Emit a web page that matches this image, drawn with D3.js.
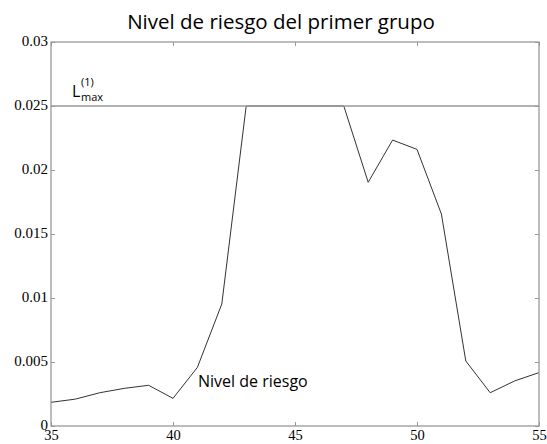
<!DOCTYPE html>
<html><head><meta charset="utf-8">
<script src="https://cdn.jsdelivr.net/npm/d3@7"></script>
<style>body{margin:0;background:#fff}</style>
</head><body>
<svg id="c" width="547" height="444"></svg>
<script>
const xs = [35,36,37,38,39,40,41,42,43,44,45,46,47,48,49,50,51,52,53,54,55];
const riesgo = [0.00185,0.0021,0.0026,0.00294,0.00318,0.00216,0.00458,0.00953,0.025,0.025,0.025,0.025,0.025,0.01904,0.02234,0.02161,0.01656,0.00508,0.0026,0.00352,0.00417];
const limite = 0.025;
const xTicks = [35,40,45,50,55];
const yTicks = [0,0.005,0.01,0.015,0.02,0.025,0.03];
const yTickLabels = ["0","0.005","0.01","0.015","0.02","0.025","0.03"];

const svg = d3.select("#c");
const L=51, R=539, T=42, B=426;
const x = d3.scaleLinear().domain([35,55]).range([L,R]);
const y = d3.scaleLinear().domain([0,0.03]).range([B,T]);
const axisCol = "#999";
const g = svg.append("g");

// data line (drawn first so the limit line covers the capped part)
const line = d3.line().x((d,i)=>x(xs[i])).y(d=>y(d));
g.append("path").datum(riesgo).attr("d",line).attr("fill","none")
 .attr("stroke","#333").attr("stroke-width",1);

// box
g.append("rect").attr("x",L).attr("y",T).attr("width",R-L).attr("height",B-T)
 .attr("fill","none").attr("stroke",axisCol).attr("stroke-width",1.3);

// axes with inward ticks
const fmtY = d => yTickLabels[yTicks.indexOf(d)];
const ax = (gen, tr) => {
  const a = g.append("g").attr("transform",tr).call(gen);
  a.select(".domain").remove();
  a.selectAll("line").attr("stroke",axisCol).attr("stroke-width",1);
  a.selectAll("text").attr("font-family","'Liberation Serif','DejaVu Serif',serif").attr("font-size",15).attr("fill","#000");
  return a;
};
ax(d3.axisBottom(x).tickValues(xTicks).tickSize(-4).tickPadding(4).tickFormat(d3.format("d")), `translate(0,${B})`)
  .selectAll("text").attr("font-size",14.5);
ax(d3.axisTop(x).tickValues(xTicks).tickSize(-4).tickFormat(""), `translate(0,${T})`);
ax(d3.axisLeft(y).tickValues(yTicks).tickSize(-4).tickPadding(3).tickFormat(fmtY), `translate(${L},0)`)
  .selectAll("text").attr("dy","0.2em");
ax(d3.axisRight(y).tickValues(yTicks).tickSize(-4).tickFormat(""), `translate(${R},0)`);

// limit line
g.append("line").attr("x1",L).attr("x2",R).attr("y1",y(limite)).attr("y2",y(limite))
 .attr("stroke",axisCol).attr("stroke-width",1.6);

// title
const sans = "'Open Sans','Noto Sans',sans-serif";
svg.append("text").attr("x",281).attr("y",29).attr("text-anchor","middle")
 .attr("font-family",sans).attr("font-size",20.5).attr("fill","#000")
 .text("Nivel de riesgo del primer grupo");

// L max label
svg.append("text").attr("x",72).attr("y",97).attr("font-family",sans).attr("font-size",16).attr("fill","#000").text("L");
svg.append("text").attr("x",81).attr("y",86).attr("font-family",sans).attr("font-size",11).text("(1)");
svg.append("text").attr("x",81).attr("y",101).attr("font-family",sans).attr("font-size",11).text("max");

// series label
svg.append("text").attr("x",198).attr("y",387).attr("font-family",sans).attr("font-size",16).attr("fill","#000").text("Nivel de riesgo");
</script>
</body></html>
